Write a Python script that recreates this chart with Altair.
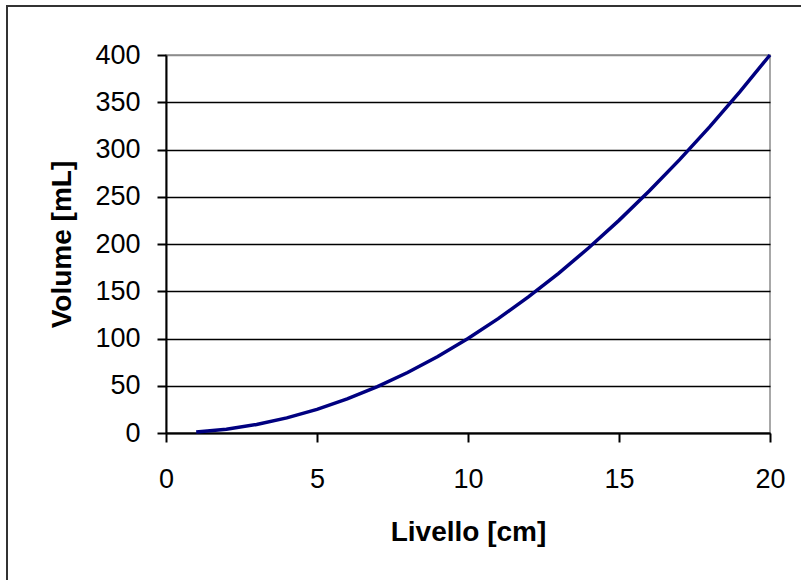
import altair as alt
import pandas as pd

livello = [1, 2, 3, 4, 5, 6, 7, 8, 9, 10, 11, 12, 13, 14, 15, 16, 17, 18, 19, 20]
volume = [1, 4, 9, 16, 25, 36, 49, 64, 81, 100, 121, 144, 169, 196, 225, 256, 289, 324, 361, 400]
x_ticks = [0, 5, 10, 15, 20]
y_ticks = [0, 50, 100, 150, 200, 250, 300, 350, 400]

df = pd.DataFrame({"Livello": livello, "Volume": volume})

FONT = "Liberation Sans"

line = alt.Chart(df).mark_line(color="#000080", strokeWidth=3.5).encode(
    x=alt.X(
        "Livello:Q",
        scale=alt.Scale(domain=[0, 20], nice=False, zero=False),
        axis=alt.Axis(
            title="Livello [cm]",
            values=x_ticks,
            grid=False,
            labelFlush=False,
            labelFontSize=27,
            labelFont=FONT,
            labelColor="black",
            labelPadding=24,
            tickSize=9,
            tickWidth=2,
            tickColor="black",
            domainColor="black",
            domainWidth=2,
            titleFont=FONT,
            titleFontSize=28,
            titleFontWeight="bold",
            titleColor="black",
            titleBaseline="alphabetic",
            titleY=107,
        ),
    ),
    y=alt.Y(
        "Volume:Q",
        scale=alt.Scale(domain=[0, 400], nice=False),
        axis=alt.Axis(
            title="Volume [mL]",
            values=y_ticks,
            grid=True,
            gridColor=alt.condition("datum.value == 400", alt.value("#8c8c8c"), alt.value("black")),
            gridWidth=1.5,
            labelFlush=False,
            labelFontSize=27,
            labelFont=FONT,
            labelColor="black",
            labelPadding=17,
            tickSize=9,
            tickWidth=2,
            tickColor="black",
            domainColor="black",
            domainWidth=2,
            titleFont=FONT,
            titleFontSize=28,
            titleFontWeight="bold",
            titleColor="black",
            titleBaseline="alphabetic",
            titleX=-96,
        ),
    ),
)

frame = alt.Chart(pd.DataFrame({"a": [0]})).mark_rect(
    filled=False, stroke="#333333", strokeWidth=2
).encode(
    x=alt.value(-159), x2=alt.value(700), y=alt.value(-49), y2=alt.value(600)
)

chart = (
    alt.layer(frame, line)
    .properties(
        width=604,
        height=378,
        autosize=alt.AutoSizeParams(type="none"),
        padding={"left": 166, "top": 55, "right": 31, "bottom": 147},
        background="white",
    )
    .configure_view(stroke="#8c8c8c", strokeWidth=1.5)
)

chart.save("out.html", embed_options={"renderer": "svg", "actions": False})
